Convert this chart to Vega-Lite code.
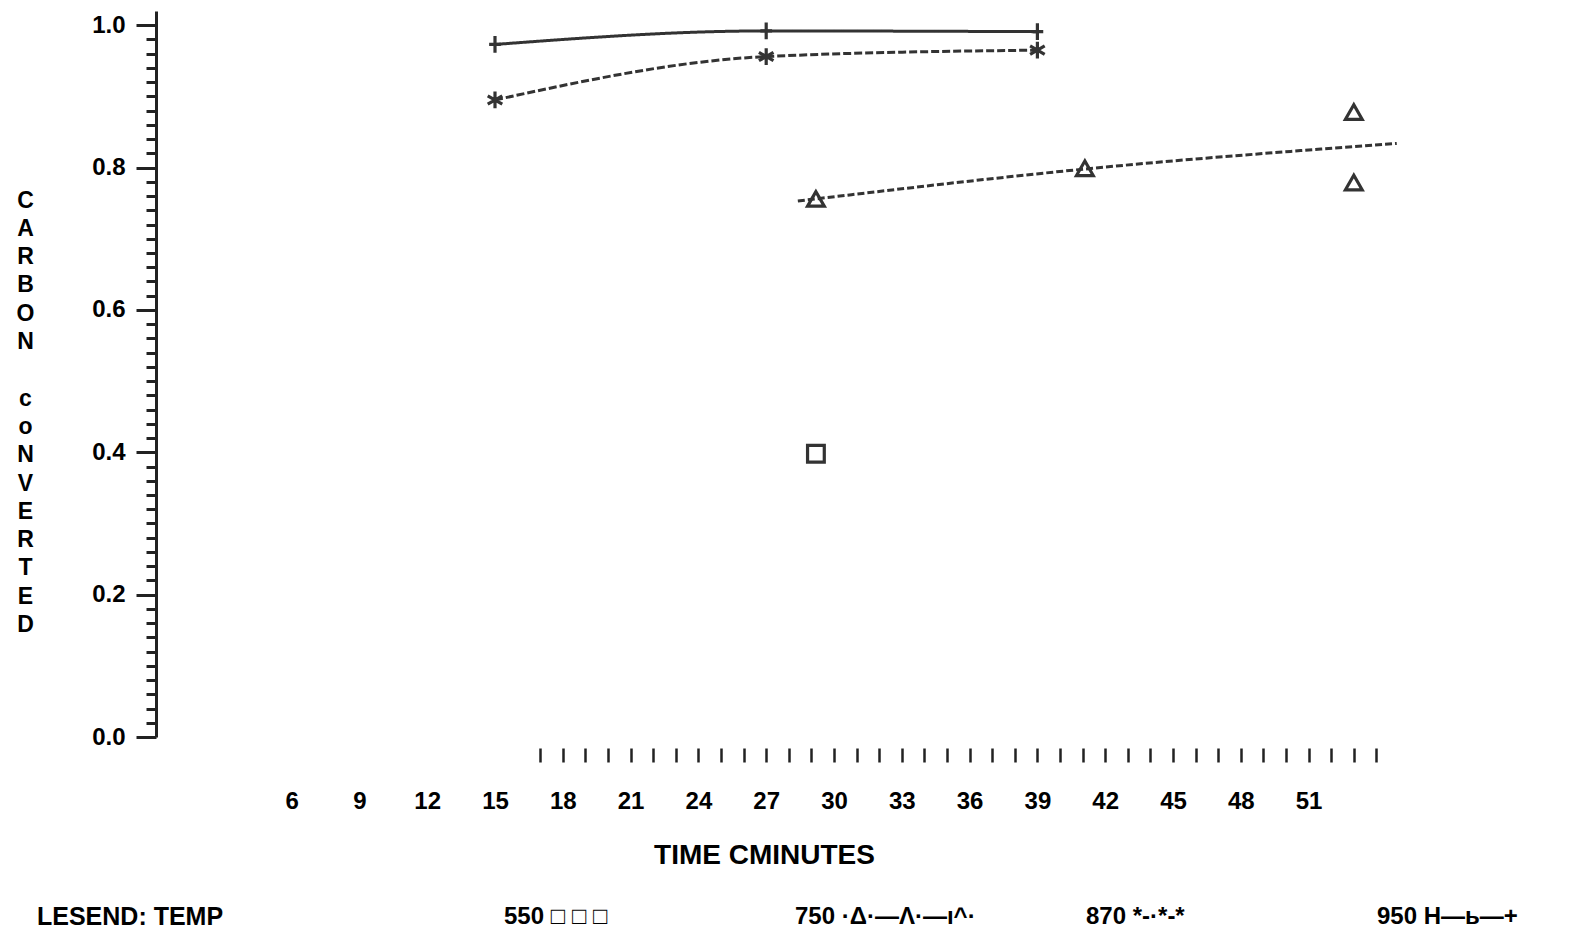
{
  "$schema": "https://vega.github.io/schema/vega-lite/v6.json",
  "autosize": {"type": "none"},
  "padding": {"left": 156, "top": 11, "right": 173, "bottom": 195},
  "width": 1243,
  "height": 726,
  "background": "white",
  "config": {
    "view": {"stroke": null},
    "font": "Liberation Sans",
    "axis": {"labelFont": "Liberation Sans", "titleFont": "Liberation Sans"}
  },
  "data": {
    "values": [
      {"temp": "950", "kind": "obs", "t": 15, "conv": 0.973},
      {"temp": "950", "kind": "obs", "t": 27, "conv": 0.992},
      {"temp": "950", "kind": "obs", "t": 39, "conv": 0.991},
      {"temp": "870", "kind": "obs", "t": 15, "conv": 0.895},
      {"temp": "870", "kind": "obs", "t": 27, "conv": 0.956},
      {"temp": "870", "kind": "obs", "t": 39, "conv": 0.965},
      {"temp": "750", "kind": "obs", "t": 29.2, "conv": 0.756},
      {"temp": "750", "kind": "obs", "t": 41.1, "conv": 0.799},
      {"temp": "750", "kind": "obs", "t": 53, "conv": 0.878},
      {"temp": "750", "kind": "obs", "t": 53, "conv": 0.779},
      {"temp": "550", "kind": "obs", "t": 29.2, "conv": 0.398},
      {"temp": "750", "kind": "fit", "t": 28.4, "conv": 0.753},
      {"temp": "750", "kind": "fit", "t": 41.1, "conv": 0.798},
      {"temp": "750", "kind": "fit", "t": 54.9, "conv": 0.834}
    ]
  },
  "encoding": {
    "x": {
      "field": "t", "type": "quantitative",
      "scale": {"domain": [0, 55], "nice": false, "zero": false},
      "axis": {
        "values": [6,7,8,9,10,11,12,13,14,15,16,17,18,19,20,21,22,23,24,25,26,27,28,29,30,31,32,33,34,35,36,37,38,39,40,41,42,43,44,45,46,47,48,49,50,51,52,53,54],
        "offset": 11,
        "domain": false,
        "grid": false,
        "tickSize": 14,
        "tickWidth": 2.5,
        "tickColor": "#222",
        "tickOpacity": {"condition": {"test": "datum.value < 17", "value": 0}, "value": 1},
        "labelExpr": "(datum.value % 3 == 0 && datum.value >= 6 && datum.value <= 51) ? datum.label : ''",
        "labelOverlap": false,
        "labelFlush": false,
        "labelPadding": 27,
        "labelFontSize": 24,
        "labelFontWeight": "bold",
        "labelColor": "#000",
        "title": "TIME CMINUTES",
        "titleFontSize": 28,
        "titleFontWeight": "bold",
        "titleColor": "#000",
        "titleX": 608,
        "titleY": 93,
        "titleAlign": "center",
        "titleBaseline": "top"
      }
    },
    "y": {
      "field": "conv", "type": "quantitative",
      "scale": {"domain": [0, 1.02], "nice": false, "zero": false},
      "axis": {
        "values": [0,0.02,0.04,0.06,0.08,0.1,0.12,0.14,0.16,0.18,0.2,0.22,0.24,0.26,0.28,0.3,0.32,0.34,0.36,0.38,0.4,0.42,0.44,0.46,0.48,0.5,0.52,0.54,0.56,0.58,0.6,0.62,0.64,0.66,0.68,0.7,0.72,0.74,0.76,0.78,0.8,0.82,0.84,0.86,0.88,0.9,0.92,0.94,0.96,0.98,1.0],
        "grid": false,
        "domainWidth": 3,
        "domainColor": "#222",
        "tickWidth": 3,
        "tickColor": "#222",
        "tickSize": {"condition": {"test": "abs(datum.value*5 - round(datum.value*5)) < 0.001", "value": 20}, "value": 10},
        "labelExpr": "abs(datum.value*5 - round(datum.value*5)) < 0.001 ? format(datum.value, '.1f') : ''",
        "labelOverlap": false,
        "labelFlush": false,
        "labelPadding": 11,
        "labelFontSize": 24,
        "labelFontWeight": "bold",
        "labelColor": "#000",
        "title": ["C","A","R","B","O","N","\u2800","c","o","N","V","E","R","T","E","D"],
        "titleAngle": 0,
        "titleX": -131,
        "titleY": 178,
        "titleAlign": "center",
        "titleBaseline": "top",
        "titleLineHeight": 28.3,
        "titleFontSize": 23,
        "titleFontWeight": "bold",
        "titleColor": "#000"
      }
    }
  },
  "layer": [
    {
      "transform": [{"filter": "datum.kind == 'fit' || (datum.kind == 'obs' && (datum.temp == '870' || datum.temp == '950'))"}],
      "mark": {"type": "line", "color": "#333", "strokeWidth": 3, "interpolate": "monotone"},
      "encoding": {
        "detail": {"field": "temp", "type": "nominal"},
        "strokeDash": {
          "field": "temp", "type": "nominal",
          "scale": {"domain": ["750", "870", "950"], "range": [[7, 3], [8, 3], [1, 0]]},
          "legend": null
        }
      }
    },
    {
      "transform": [{"filter": "datum.kind == 'obs'"}],
      "mark": {"type": "point", "filled": false, "color": "#333", "strokeWidth": 3.2, "size": 280, "opacity": 1},
      "encoding": {
        "shape": {
          "field": "temp", "type": "nominal",
          "scale": {
            "domain": ["550", "750", "870", "950"],
            "range": ["square", "triangle-up", "M0,-1V1M-0.87,-0.5L0.87,0.5M-0.87,0.5L0.87,-0.5", "M-0.7,0H0.7M0,-1V1"]
          },
          "legend": {
            "orient": "none",
            "legendX": -119,
            "legendY": 894,
            "direction": "horizontal",
            "columns": 4,
            "gridAlign": "all",
            "columnPadding": 86,
            "padding": 0,
            "title": "LESEND: TEMP",
            "titleOrient": "left",
            "titlePadding": 256,
            "titleLimit": 500,
            "titleFontSize": 25,
            "titleFontWeight": "bold",
            "titleColor": "#000",
            "titleBaseline": "middle",
            "labelFontSize": 24,
            "labelFontWeight": "bold",
            "labelColor": "#000",
            "labelOffset": 0,
            "labelLimit": 400,
            "symbolSize": 0,
            "symbolOpacity": 0,
            "symbolStrokeWidth": 0,
            "labelExpr": "datum.label == '550' ? '550 □ □ □' : datum.label == '750' ? '750 ·Δ·—Λ·—ı^·' : datum.label == '870' ? '870 *-·*-*' : '950 H—ь—+'"
          }
        }
      }
    }
  ]
}
